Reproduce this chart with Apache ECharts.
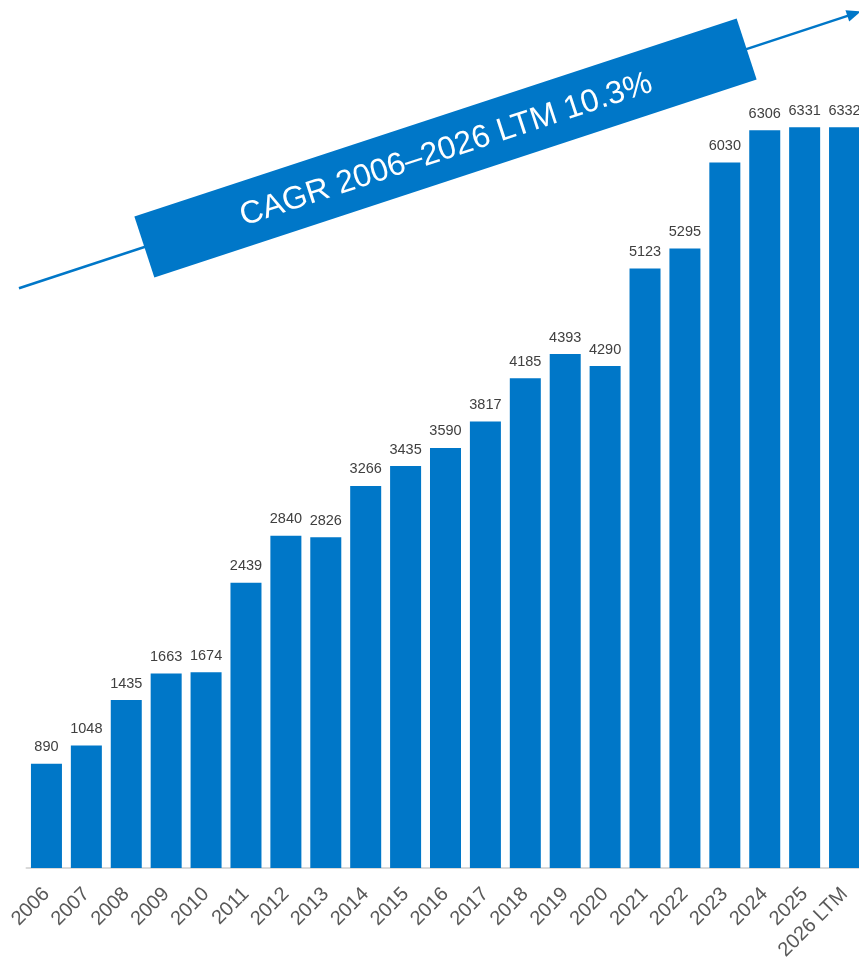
<!DOCTYPE html>
<html>
<head>
<meta charset="utf-8">
<script src="https://cdn.jsdelivr.net/npm/echarts@6/dist/echarts.min.js"></script>
<style>
html,body{margin:0;padding:0;background:#fff;}
#chart{width:859px;height:964px;}
</style>
</head>
<body>
<div id="chart"></div>
<script>
var categories = ['2006','2007','2008','2009','2010','2011','2012','2013','2014','2015','2016','2017','2018','2019','2020','2021','2022','2023','2024','2025','2026 LTM'];
var values = [890,1048,1435,1663,1674,2439,2840,2826,3266,3435,3590,3817,4185,4393,4290,5123,5295,6030,6306,6331,6332];
var bannerText = 'CAGR 2006\u20132026 LTM 10.3%';

var BLUE = '#0077c8';
var FONT = '"Liberation Sans", Arial, sans-serif';
var ang = 18.2 * Math.PI / 180;

var chart = echarts.init(document.getElementById('chart'), null, {renderer: 'canvas'});
chart.setOption({
  animation: false,
  backgroundColor: '#ffffff',
  grid: {left: 26.5, width: 838, top: 49, bottom: 96, containLabel: false, outerBoundsMode: 'none'},
  xAxis: {
    type: 'category',
    data: categories,
    axisLine: {show: true, lineStyle: {color: '#d9d9d9', width: 2}},
    axisTick: {show: false},
    axisLabel: {
      interval: 0,
      rotate: 45,
      margin: 23,
      color: '#595959',
      fontSize: 20,
      fontFamily: FONT
    }
  },
  yAxis: {
    type: 'value',
    min: 0,
    max: 7000,
    show: false,
    splitLine: {show: false}
  },
  series: [{
    type: 'bar',
    data: values,
    barCategoryGap: '22.3%',
    itemStyle: {color: BLUE},
    label: {
      show: true,
      position: 'top',
      distance: 9,
      color: '#404040',
      fontSize: 14.5,
      fontFamily: FONT
    }
  }],
  graphic: [{
    type: 'group',
    x: 445.5,
    y: 148,
    rotation: ang,
    z: 100,
    children: [
      {
        type: 'line',
        shape: {x1: -449, y1: 0, x2: 428, y2: 0},
        style: {stroke: BLUE, lineWidth: 2.5}
      },
      {
        type: 'polygon',
        shape: {points: [[423, -6], [437, 0], [423, 6]]},
        style: {fill: BLUE}
      },
      {
        type: 'rect',
        shape: {x: -317, y: -32, width: 634, height: 64},
        style: {fill: BLUE}
      },
      {
        type: 'text',
        x: 0,
        y: 2,
        style: {
          text: bannerText,
          fill: '#ffffff',
          fontSize: 32,
          fontFamily: FONT,
          textAlign: 'center',
          textVerticalAlign: 'middle',
          align: 'center',
          verticalAlign: 'middle'
        }
      }
    ]
  }]
});
</script>
</body>
</html>
